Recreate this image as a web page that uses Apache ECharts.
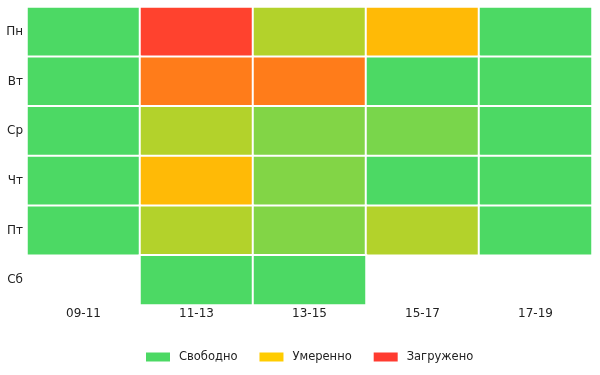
<!DOCTYPE html>
<html>
<head>
<meta charset="utf-8">
<script src="https://cdn.jsdelivr.net/npm/echarts@6/dist/echarts.min.js"></script>
<style>html,body{margin:0;padding:0;background:#fff}#c{width:600px;height:375px}</style>
</head>
<body>
<div id="c"></div>
<script>
const slots = ['09-11', '11-13', '13-15', '15-17', '17-19'];
const days = ['Пн', 'Вт', 'Ср', 'Чт', 'Пт', 'Сб'];
// load per day, per slot (null = no data)
const mon = [15, 98, 43, 65, 15];
const tue = [15, 82, 82, 15, 15];
const wed = [15, 43, 32, 30, 15];
const thu = [15, 65, 32, 15, 15];
const fri = [15, 43, 32, 43, 15];
const sat = [null, 15, 15, null, null];
const levelNames = ['Свободно', 'Умеренно', 'Загружено'];
const levelColors = ['#4cd964', '#ffcc00', '#ff3b30'];

const rows = [mon, tue, wed, thu, fri, sat];
const data = [];
rows.forEach((r, yi) => r.forEach((v, xi) => { if (v !== null) data.push([xi, yi, v]); }));

const font = 'DejaVu Sans';
const chart = echarts.init(document.getElementById('c'));
const series = [{
  type: 'heatmap',
  data: data,
  itemStyle: { borderColor: '#fff', borderWidth: 2 },
  emphasis: { disabled: true }
}];
levelNames.forEach((n, i) => series.push({ type: 'bar', name: n, data: [], itemStyle: { color: levelColors[i] } }));

chart.setOption({
  animation: false,
  textStyle: { fontFamily: font },
  grid: { left: 27, right: 8, top: 7, bottom: 70 },
  xAxis: {
    type: 'category', data: slots,
    axisLine: { show: false }, axisTick: { show: false }, splitLine: { show: false },
    axisLabel: { color: '#222', fontSize: 12, margin: 3, fontFamily: font }
  },
  yAxis: {
    type: 'category', data: days, inverse: true,
    axisLine: { show: false }, axisTick: { show: false }, splitLine: { show: false },
    axisLabel: { color: '#222', fontSize: 12, margin: 4, fontFamily: font }
  },
  visualMap: {
    show: false, type: 'continuous', seriesIndex: 0, dimension: 2,
    min: 20, max: 100,
    inRange: { color: levelColors }
  },
  legend: {
    data: levelNames,
    left: 141, top: 346,
    icon: 'rect', itemWidth: 24, itemHeight: 9, itemGap: 22,
    selectedMode: false,
    textStyle: { color: '#222', fontSize: 11.5, fontFamily: font, padding: [0, 0, 0, 4] }
  },
  series: series
});
</script>
</body>
</html>
